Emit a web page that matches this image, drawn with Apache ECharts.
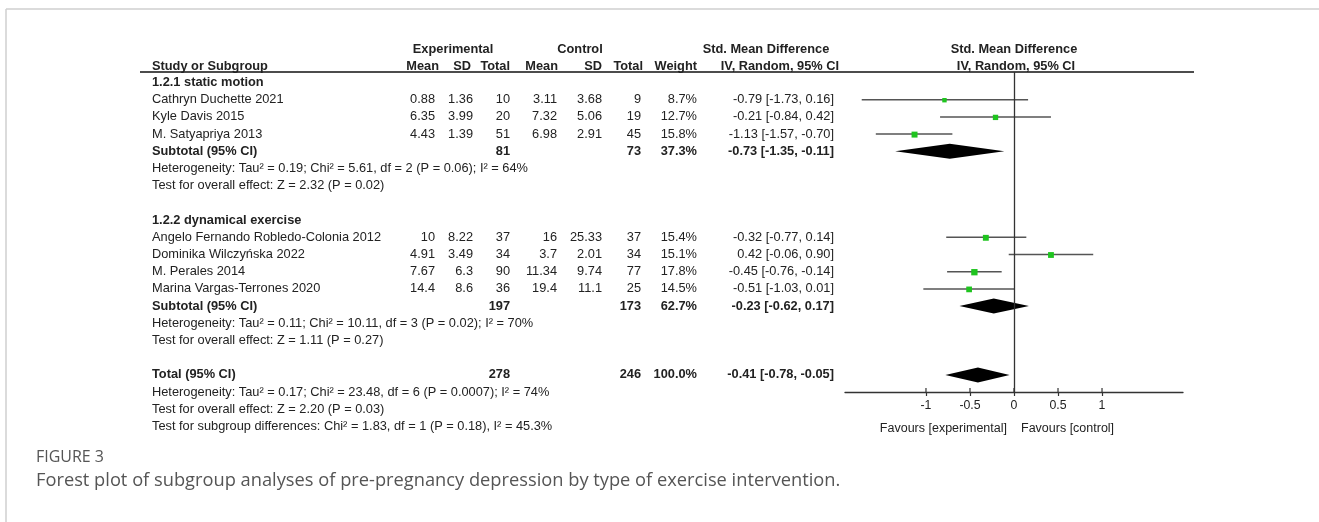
<!DOCTYPE html>
<html>
<head>
<meta charset="utf-8">
<script src="https://cdn.jsdelivr.net/npm/echarts@6/dist/echarts.min.js"></script>
<style>
html,body{margin:0;padding:0;background:#fff;}
#c{width:1319px;height:522px;}
</style>
</head>
<body>
<div id="c"></div>
<script>
// ---------------- DATA ----------------
const groupNames = ['1.2.1 static motion', '1.2.2 dynamical exercise'];
const studyNames = ['Cathryn Duchette 2021', 'Kyle Davis 2015', 'M. Satyapriya 2013',
  'Angelo Fernando Robledo-Colonia 2012', 'Dominika Wilczyńska 2022', 'M. Perales 2014', 'Marina Vargas-Terrones 2020'];
const studyGroup = [0, 0, 0, 1, 1, 1, 1];
const expMean = [0.88, 6.35, 4.43, 10, 4.91, 7.67, 14.4];
const expSD   = [1.36, 3.99, 1.39, 8.22, 3.49, 6.3, 8.6];
const expN    = [10, 20, 51, 37, 34, 90, 36];
const ctlMean = [3.11, 7.32, 6.98, 16, 3.7, 11.34, 19.4];
const ctlSD   = [3.68, 5.06, 2.91, 25.33, 2.01, 9.74, 11.1];
const ctlN    = [9, 19, 45, 37, 34, 77, 25];
const weight  = [8.7, 12.7, 15.8, 15.4, 15.1, 17.8, 14.5];
const smd     = [-0.79, -0.21, -1.13, -0.32, 0.42, -0.45, -0.51];
const ciLo    = [-1.73, -0.84, -1.57, -0.77, -0.06, -0.76, -1.03];
const ciHi    = [0.16, 0.42, -0.70, 0.14, 0.90, -0.14, 0.01];

const subExpN   = [81, 197];
const subCtlN   = [73, 173];
const subWeight = [37.3, 62.7];
const subSmd    = [-0.73, -0.23];
const subLo     = [-1.35, -0.62];
const subHi     = [-0.11, 0.17];
const subHet  = ['Heterogeneity: Tau² = 0.19; Chi² = 5.61, df = 2 (P = 0.06); I² = 64%',
                 'Heterogeneity: Tau² = 0.11; Chi² = 10.11, df = 3 (P = 0.02); I² = 70%'];
const subTest = ['Test for overall effect: Z = 2.32 (P = 0.02)',
                 'Test for overall effect: Z = 1.11 (P = 0.27)'];

const totalExpN = 278, totalCtlN = 246, totalWeight = 100.0;
const totalSmd = -0.41, totalLo = -0.78, totalHi = -0.05;
const totalHet = 'Heterogeneity: Tau² = 0.17; Chi² = 23.48, df = 6 (P = 0.0007); I² = 74%';
const totalTest = 'Test for overall effect: Z = 2.20 (P = 0.03)';
const subgroupTest = 'Test for subgroup differences: Chi² = 1.83, df = 1 (P = 0.18), I² = 45.3%';

const xTicks = [-1, -0.5, 0, 0.5, 1];
const favourLabels = ['Favours [experimental]', 'Favours [control]'];
const headerTop = ['Experimental', 'Control', 'Std. Mean Difference', 'Std. Mean Difference'];
const headerSub = ['Study or Subgroup', 'Mean', 'SD', 'Total', 'Mean', 'SD', 'Total', 'Weight', 'IV, Random, 95% CI', 'IV, Random, 95% CI'];
const figLabel = 'FIGURE 3';
const caption = 'Forest plot of subgroup analyses of pre-pregnancy depression by type of exercise intervention.';

// ---------------- LAYOUT ----------------
const W = 1319, H = 522;
const PLOT_TOP = 72, PLOT_BOTTOM = 392;
const ROW0_Y = 82.5, STEP = 17.2;
const yToRow = y => (y - ROW0_Y) / STEP;
const ROW_MIN = yToRow(PLOT_TOP), ROW_AXIS = yToRow(PLOT_BOTTOM);
const TABLE_MIN = -3, TABLE_MAX = 21;
const PLOT_LEFT = 845, PLOT_WIDTH = 338, X_MIN = -1.92, X_MAX = 1.92;
const FONT = '"Liberation Sans", Arial, sans-serif';
const FS = 12.8;
const TXT = '#222';
const col = {
  study: [152, 'left'], expMean: [435, 'right'], expSD: [473, 'right'], expN: [510, 'right'],
  ctlMean: [557, 'right'], ctlSD: [602, 'right'], ctlN: [641, 'right'], weight: [697, 'right'], ci: [834, 'right']
};
const HEAD_TOP_ROW = -1.9, HEAD_SUB_ROW = -0.95;
const headTopPos = [[453, 'center'], [580, 'center'], [766, 'center'], [1014, 'center']];
const headSubPos = [[152, 'left'], [439, 'right'], [471, 'right'], [510, 'right'], [558, 'right'], [602, 'right'],
  [643, 'right'], [697, 'right'], [839, 'right'], [1016, 'center']];

const f2 = v => v.toFixed(2);
const ciText = (s, l, h) => `${f2(s)} [${f2(l)}, ${f2(h)}]`;
const wText = w => w.toFixed(1) + '%';

// ---------------- BUILD ROWS ----------------
const cells = [];
const studyPts = [];
const diamonds = [];
let r = 0;
function cell(key, row, text, bold) {
  const c = col[key];
  cells.push({ x: c[0], row, text: String(text), align: c[1], bold: !!bold });
}
groupNames.forEach((g, gi) => {
  cell('study', r, g, true); r++;
  studyNames.forEach((name, i) => {
    if (studyGroup[i] !== gi) return;
    cell('study', r, name);
    cell('expMean', r, expMean[i]); cell('expSD', r, expSD[i]); cell('expN', r, expN[i]);
    cell('ctlMean', r, ctlMean[i]); cell('ctlSD', r, ctlSD[i]); cell('ctlN', r, ctlN[i]);
    cell('weight', r, wText(weight[i])); cell('ci', r, ciText(smd[i], ciLo[i], ciHi[i]));
    studyPts.push([smd[i], r, ciLo[i], ciHi[i], weight[i]]);
    r++;
  });
  cell('study', r, 'Subtotal (95% CI)', true);
  cell('expN', r, subExpN[gi], true); cell('ctlN', r, subCtlN[gi], true);
  cell('weight', r, wText(subWeight[gi]), true); cell('ci', r, ciText(subSmd[gi], subLo[gi], subHi[gi]), true);
  diamonds.push([subSmd[gi], r, subLo[gi], subHi[gi]]);
  r++;
  cell('study', r, subHet[gi]); r++;
  cell('study', r, subTest[gi]); r++;
  r++; // blank row
});
cell('study', r, 'Total (95% CI)', true);
cell('expN', r, totalExpN, true); cell('ctlN', r, totalCtlN, true);
cell('weight', r, wText(totalWeight), true); cell('ci', r, ciText(totalSmd, totalLo, totalHi), true);
diamonds.push([totalSmd, r, totalLo, totalHi]);
r++;
cell('study', r, totalHet); r++;
cell('study', r, totalTest); r++;
cell('study', r, subgroupTest); r++;

headerTop.forEach((t, i) => cells.push({ x: headTopPos[i][0], row: HEAD_TOP_ROW, text: t, align: headTopPos[i][1], bold: true }));
headerSub.forEach((t, i) => cells.push({ x: headSubPos[i][0], row: HEAD_SUB_ROW, text: t, align: headSubPos[i][1], bold: true }));

// ---------------- CAPTION FITTING ----------------
const mctx = document.createElement('canvas').getContext('2d');
function fitSize(text, family, weightStr, targetW) {
  mctx.font = `${weightStr} 20px ${family}`;
  return 20 * targetW / mctx.measureText(text).width;
}
const CAP_FONT = '"Open Sans", "Noto Sans", sans-serif';
const capSize = fitSize(caption, CAP_FONT, '400', 805);
const figSize = fitSize(figLabel, CAP_FONT, '400', 68);

// ---------------- CHART ----------------
const chart = echarts.init(document.getElementById('c'), null, { renderer: 'canvas' });
const tableTop = ROW0_Y + TABLE_MIN * STEP;
const tableHeight = (TABLE_MAX - TABLE_MIN) * STEP;

const option = {
  animation: false,
  backgroundColor: '#fff',
  grid: [
    { left: 0, top: tableTop, width: W, height: tableHeight },
    { left: PLOT_LEFT, top: PLOT_TOP, width: PLOT_WIDTH, height: PLOT_BOTTOM - PLOT_TOP }
  ],
  xAxis: [
    { gridIndex: 0, type: 'value', min: 0, max: W, show: false },
    {
      gridIndex: 1, type: 'value', min: X_MIN, max: X_MAX, position: 'bottom',
      splitLine: { show: false },
      axisLine: { show: true, onZero: false, lineStyle: { color: '#333', width: 1.3 } },
      axisTick: { show: true, customValues: xTicks, length: 4, lineStyle: { color: '#333', width: 1.2 } },
      axisLabel: { show: true, customValues: xTicks, margin: 8, color: TXT, fontSize: FS - 0.5, fontFamily: FONT }
    }
  ],
  yAxis: [
    { gridIndex: 0, type: 'value', min: TABLE_MIN, max: TABLE_MAX, inverse: true, show: false },
    { gridIndex: 1, type: 'value', min: ROW_MIN, max: ROW_AXIS, inverse: true, show: false }
  ],
  series: [
    {
      type: 'custom', xAxisIndex: 0, yAxisIndex: 0, silent: true,
      data: cells.map(c => [c.x, c.row]),
      renderItem: (params, api) => {
        const c = cells[params.dataIndex];
        const p = api.coord([api.value(0), api.value(1)]);
        return {
          type: 'text', x: p[0], y: p[1],
          style: { text: c.text, align: c.align, verticalAlign: 'middle', fill: TXT,
            fontSize: FS, fontWeight: c.bold ? 'bold' : 'normal', fontFamily: FONT }
        };
      }
    },
    {
      type: 'custom', xAxisIndex: 1, yAxisIndex: 1, silent: true,
      data: studyPts,
      encode: { x: [0, 2, 3], y: 1 },
      renderItem: (params, api) => {
        const y = api.value(1);
        const pl = api.coord([api.value(2), y]);
        const ph = api.coord([api.value(3), y]);
        const pm = api.coord([api.value(0), y]);
        const s = 1.5 * Math.sqrt(api.value(4));
        return {
          type: 'group', children: [
            { type: 'line', shape: { x1: pl[0], y1: pl[1], x2: ph[0], y2: ph[1] },
              style: { stroke: '#555', lineWidth: 1.5 } },
            { type: 'rect', shape: { x: pm[0] - s / 2, y: pm[1] - s / 2 + 0.5, width: s, height: s },
              style: { fill: '#1fc41f' } }
          ]
        };
      },
      markLine: {
        silent: true, symbol: ['none', 'none'], label: { show: false },
        lineStyle: { color: '#333', width: 1.3, type: 'solid' },
        data: [{ xAxis: 0 }]
      }
    },
    {
      type: 'custom', xAxisIndex: 1, yAxisIndex: 1, silent: true,
      data: diamonds,
      encode: { x: [0, 2, 3], y: 1 },
      renderItem: (params, api) => {
        const y = api.value(1);
        const pl = api.coord([api.value(2), y]);
        const ph = api.coord([api.value(3), y]);
        const pm = api.coord([api.value(0), y]);
        const h = 7.5;
        return {
          type: 'polygon',
          shape: { points: [[pl[0], pl[1]], [pm[0], pm[1] - h], [ph[0], ph[1]], [pm[0], pm[1] + h]] },
          style: { fill: '#000' }
        };
      }
    },
    {
      type: 'custom', xAxisIndex: 1, yAxisIndex: 1, silent: true,
      data: xTicks.map(v => [v, ROW_AXIS]),
      renderItem: (params, api) => {
        const p = api.coord([api.value(0), api.value(1)]);
        return { type: 'line', shape: { x1: p[0], y1: p[1] - 4, x2: p[0], y2: p[1] },
          style: { stroke: '#333', lineWidth: 1.2 } };
      }
    },
    {
      type: 'custom', xAxisIndex: 1, yAxisIndex: 1, silent: true,
      data: favourLabels.map(() => [0, ROW_AXIS]),
      renderItem: (params, api) => {
        const i = params.dataIndex;
        const p = api.coord([api.value(0), api.value(1)]);
        return { type: 'text', x: p[0] + (i === 0 ? -7 : 7), y: p[1] + 37,
          style: { text: favourLabels[i], align: i === 0 ? 'right' : 'left', verticalAlign: 'middle',
            fill: TXT, fontSize: FS - 0.3, fontFamily: FONT } };
      }
    }
  ],
  graphic: [
    { type: 'line', silent: true, shape: { x1: 6, y1: 9, x2: W, y2: 9 }, style: { stroke: '#cfcfcf', lineWidth: 1.5 } },
    { type: 'line', silent: true, shape: { x1: 6, y1: 9, x2: 6, y2: H }, style: { stroke: '#cfcfcf', lineWidth: 1.5 } },
    { type: 'line', silent: true, shape: { x1: 140, y1: PLOT_TOP, x2: 1194, y2: PLOT_TOP }, style: { stroke: '#111', lineWidth: 1.3 } },
    { type: 'text', silent: true, x: 36, y: 457,
      style: { text: figLabel, fill: '#555', fontSize: figSize, fontFamily: CAP_FONT, verticalAlign: 'middle' } },
    { type: 'text', silent: true, x: 36, y: 481,
      style: { text: caption, fill: '#555', fontSize: capSize, fontFamily: CAP_FONT, verticalAlign: 'middle' } }
  ]
};
chart.setOption(option);
</script>
</body>
</html>
